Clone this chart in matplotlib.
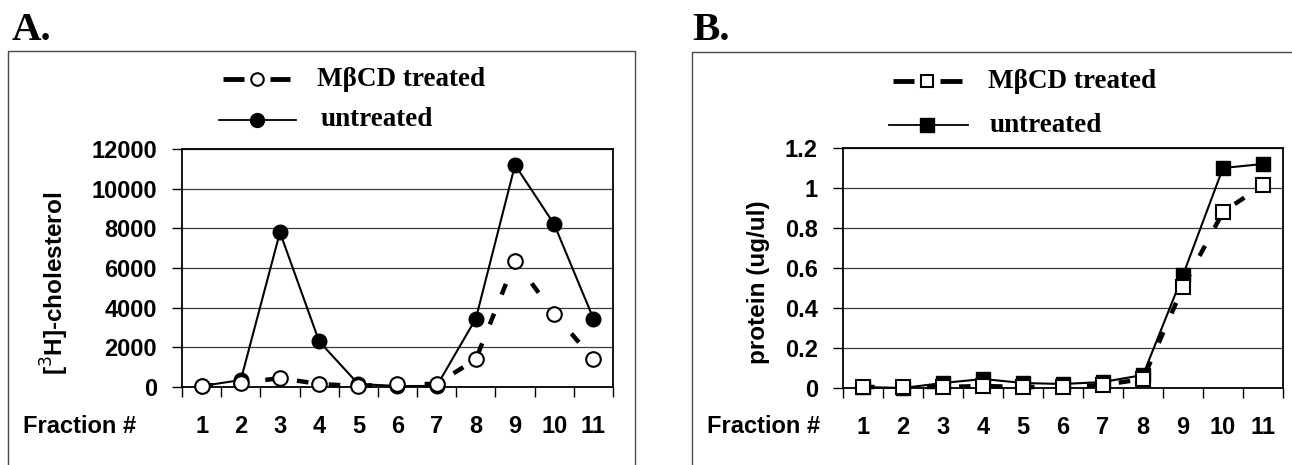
import matplotlib
matplotlib.use("Agg")
import matplotlib.pyplot as plt
from matplotlib.lines import Line2D

fractions = [1, 2, 3, 4, 5, 6, 7, 8, 9, 10, 11]
chol_untreated = [50, 350, 7800, 2300, 150, 50, 50, 3450, 11200, 8200, 3450]
chol_treated = [50, 200, 450, 150, 50, 150, 150, 1400, 6350, 3700, 1400]
prot_untreated = [0.005, 0.0, 0.025, 0.045, 0.025, 0.02, 0.03, 0.065, 0.565, 1.10, 1.12]
prot_treated = [0.005, 0.005, 0.005, 0.01, 0.005, 0.005, 0.015, 0.045, 0.505, 0.88, 1.015]
chol_yticks = [0, 2000, 4000, 6000, 8000, 10000, 12000]
prot_yticks = [0, 0.2, 0.4, 0.6, 0.8, 1.0, 1.2]
prot_yticklabels = ["0", "0.2", "0.4", "0.6", "0.8", "1", "1.2"]
legend_labels = ["M\u03b2CD treated", "untreated"]

W, H = 1292, 465
fig = plt.figure(figsize=(W / 100, H / 100), dpi=100)

SANS = "Liberation Sans"
SERIF = "Liberation Serif"
TICK_FS = 17


def fx(px):
    return px / W


def fy(py):
    return 1 - py / H


def make_axes(left, right, top, bottom):
    return fig.add_axes([fx(left), fy(bottom), fx(right) - fx(left), fy(top) - fy(bottom)])


def style_axes(ax, yticks, yticklabels, ymax):
    ax.set_xlim(0.5, 11.5)
    ax.set_ylim(0, ymax)
    ax.set_yticks(yticks)
    ax.set_yticklabels(yticklabels, fontfamily=SANS, fontweight="bold", fontsize=TICK_FS)
    ax.set_xticks([i + 0.5 for i in range(0, 12)])
    ax.set_xticklabels([])
    ax.set_xticks(fractions, minor=True)
    ax.set_xticklabels([str(f) for f in fractions], minor=True,
                       fontfamily=SANS, fontweight="bold", fontsize=TICK_FS)
    ax.tick_params(axis="x", which="major", direction="out", length=7, width=1, color="black")
    ax.tick_params(axis="x", which="minor", length=0, pad=20)
    ax.tick_params(axis="y", direction="out", length=7, width=1, pad=11)
    ax.yaxis.grid(True, color="#3a3a3a", linewidth=0.9)
    ax.set_axisbelow(True)
    for s in ax.spines.values():
        s.set_linewidth(1.3)
        s.set_color("black")


# ---------- Panel A ----------
axA = make_axes(182, 613, 149, 387)
style_axes(axA, chol_yticks, [str(v) for v in chol_yticks], 12000)
axA.plot(fractions, chol_untreated, color="black", lw=1.5, marker="o", markersize=10.5,
         markerfacecolor="black", markeredgecolor="black", zorder=3, clip_on=False)
axA.plot(fractions, chol_treated, color="black", lw=3.2, dashes=(2.6, 4.6), marker="o",
         markersize=10.5, markerfacecolor="white", markeredgecolor="black",
         markeredgewidth=1.5, zorder=4, clip_on=False)

# ---------- Panel B ----------
axB = make_axes(843, 1283, 148, 388)
style_axes(axB, prot_yticks, prot_yticklabels, 1.2)
axB.plot(fractions, prot_untreated, color="black", lw=1.5, marker="s", markersize=10,
         markerfacecolor="black", markeredgecolor="black", zorder=3, clip_on=False)
axB.plot(fractions, prot_treated, color="black", lw=3.2, dashes=(2.6, 4.6), marker="s",
         markersize=10, markerfacecolor="white", markeredgecolor="black",
         markeredgewidth=1.5, zorder=4, clip_on=False)

# ---------- Frames, labels, legends ----------
def add_line(xs, ys, **kw):
    fig.add_artist(Line2D([fx(x) for x in xs], [fy(y) for y in ys], transform=fig.transFigure, **kw))


frame_kw = dict(color="#4a4a4a", lw=1.0)
add_line([8, 8, 635, 635], [465, 51, 51, 465], **frame_kw)
add_line([692, 692, 1292], [465, 52, 52], **frame_kw)

fig.text(fx(12), fy(40), "A.", fontfamily=SERIF, fontweight="bold", fontsize=29.5,
         ha="left", va="baseline")
fig.text(fx(692), fy(40), "B.", fontfamily=SERIF, fontweight="bold", fontsize=29.5,
         ha="left", va="baseline")

fig.text(fx(55), fy(283), "[$^{3}$H]-cholesterol", rotation=90, fontfamily=SANS,
         fontweight="bold", fontsize=17.5, ha="center", va="center")
fig.text(fx(758), fy(282), "protein (ug/ul)", rotation=90, fontfamily=SANS,
         fontweight="bold", fontsize=17.5, ha="center", va="center")

fig.text(fx(23), fy(426), "Fraction #", fontfamily=SANS, fontweight="bold",
         fontsize=TICK_FS, ha="left", va="center")
fig.text(fx(707), fy(426), "Fraction #", fontfamily=SANS, fontweight="bold",
         fontsize=TICK_FS, ha="left", va="center")


def legend(x0, x1, xm, y1, y2, marker, tx1, tx2):
    # treated: dashed
    add_line([x0, xm - 13], [y1, y1], color="black", lw=3.5, solid_capstyle="butt")
    add_line([xm + 13, x1], [y1, y1], color="black", lw=3.5, solid_capstyle="butt")
    fig.add_artist(Line2D([fx(xm)], [fy(y1)], transform=fig.transFigure, marker=marker,
                          markersize=9, markerfacecolor="white", markeredgecolor="black",
                          markeredgewidth=1.5, linestyle="none"))
    add_line([x0 - 4, x1 + 6], [y2, y2], color="black", lw=1.3)
    fig.add_artist(Line2D([fx(xm)], [fy(y2)], transform=fig.transFigure, marker=marker,
                          markersize=10, markerfacecolor="black", markeredgecolor="black",
                          linestyle="none"))
    fig.text(fx(tx1), fy(y1), legend_labels[0], fontfamily=SERIF, fontweight="bold",
             fontsize=19.5, ha="left", va="center")
    fig.text(fx(tx2), fy(y2), legend_labels[1], fontfamily=SERIF, fontweight="bold",
             fontsize=19.5, ha="left", va="center")


legend(223, 290, 257, 79, 120, "o", 317, 321)
legend(893, 962, 927, 81, 125, "s", 988, 990)

fig.savefig("out.png", dpi=100)
